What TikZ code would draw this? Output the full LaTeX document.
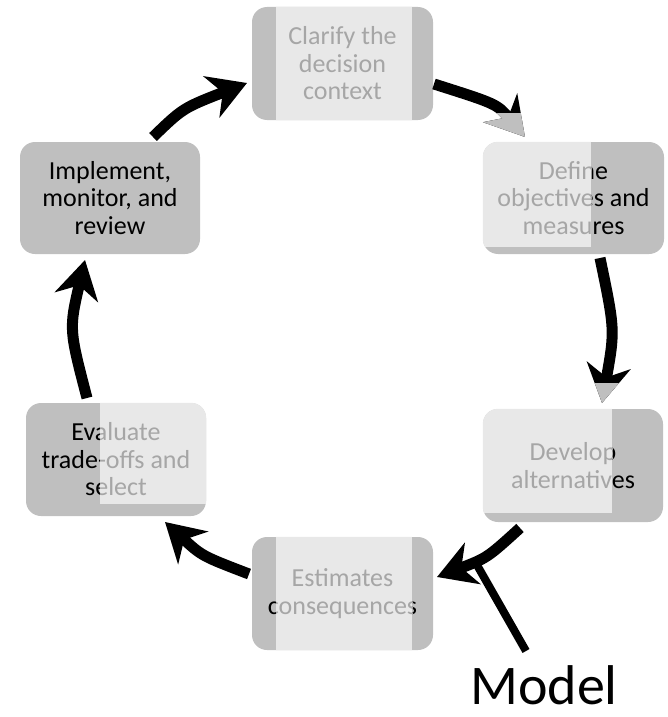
\documentclass[tikz,border=0pt]{standalone}
\usepackage{fontspec}
\setmainfont{Carlito}
\usetikzlibrary{arrows.meta}
\definecolor{boxgray}{HTML}{BFBFBF}
\definecolor{veil}{HTML}{E8E8E8}
\definecolor{fadetext}{HTML}{A6A6A6}

% light panel laid over part of a stage box, with its text redrawn faded
\newcommand\stageveil[6]{%
  \begin{scope}
    \clip[rounded corners=15pt] (#1.south west) rectangle (#1.north east);
    \clip (#2,#3) rectangle (#4,#5);
    \fill[veil] (#2,#3) rectangle (#4,#5);
    \node[ghost] (#1-veil) at (#1.center) {#6};
  \end{scope}}

\begin{document}
\begin{tikzpicture}[x=1pt,y=-1pt,
  stage/.style={rectangle, rounded corners=15pt, fill=boxgray, inner sep=0pt,
    minimum width=181pt, minimum height=113pt, align=center,
    font=\fontsize{26}{27.5}\selectfont, text=black},
  ghost/.style={rectangle, inner sep=0pt, align=center,
    font=\fontsize{26}{27.5}\selectfont, text=fadetext},
  flow/.style={line width=11pt, -{Stealth[length=38pt,width=44pt,inset=12pt]}},
]
\useasboundingbox (0,0) rectangle (667,717);

% the six stages of the cycle
\node[stage] (clar) at (342.5,63.5) {Clarify the\\decision\\context};
\node[stage, minimum height=112pt] (def) at (573.5,198) {Define\\objectives and\\measures};
\node[stage, minimum width=180pt] (dev) at (573,465.5) {Develop\\alternatives};
\node[stage] (est) at (342.5,593.5) {Estimates\\consequences};
\node[stage, minimum width=180pt] (eval) at (116,459.5) {Evaluate\\trade-offs and\\select};
\node[stage, minimum width=180pt, minimum height=112pt] (impl) at (110,198) {Implement,\\monitor, and\\review};

\stageveil{clar}{276}{0}{412}{130}{Clarify the\\decision\\context}
\stageveil{def}{470}{130}{591}{247}{Define\\objectives and\\measures}
\stageveil{dev}{470}{400}{612}{513}{Develop\\alternatives}
\stageveil{est}{276}{530}{412}{660}{Estimates\\consequences}
\stageveil{eval}{100}{395}{215}{504}{Evaluate\\trade-offs and\\select}

% arrow end points
\coordinate (a1s) at (434,84);  \coordinate (a1e) at (525,137);
\coordinate (a2s) at (600,258); \coordinate (a2e) at (602,403);
\coordinate (a3s) at (520,528); \coordinate (a3e) at (437,577);
\coordinate (a4s) at (249,574); \coordinate (a4e) at (165,522);
\coordinate (a5s) at (87,398);  \coordinate (a5e) at (85,260);
\coordinate (a6s) at (153,137); \coordinate (a6e) at (247,83);

\draw[flow] (a1s) .. controls (497,104) .. (a1e);
\draw[flow] (a2s) .. controls (615,330) .. (a2e);
\draw[flow] (a3s) .. controls (487,558) .. (a3e);
\draw[flow] (a4s) .. controls (202,556) .. (a4e);
\draw[flow] (a5s) .. controls (69,329) .. (a5e);
\draw[flow] (a6s) .. controls (183,108) .. (a6e);

% parts of two arrow heads that appear faded
\begin{scope}
  \clip (470,113) rectangle (560,150);
  \draw[flow, boxgray] (a1s) .. controls (497,104) .. (a1e);
\end{scope}
\begin{scope}
  \clip (570,383) rectangle (640,410);
  \draw[flow, boxgray] (a2s) .. controls (615,330) .. (a2e);
\end{scope}

% model label and its pointer
\node[anchor=base, font=\fontsize{56}{58}\selectfont, inner sep=0pt] (model) at (544,704) {Model};
\coordinate (mfoot) at (526,651);
\coordinate (mtip) at (477,565);
\draw[line width=8pt] (mfoot) -- (mtip);
\end{tikzpicture}
\end{document}
